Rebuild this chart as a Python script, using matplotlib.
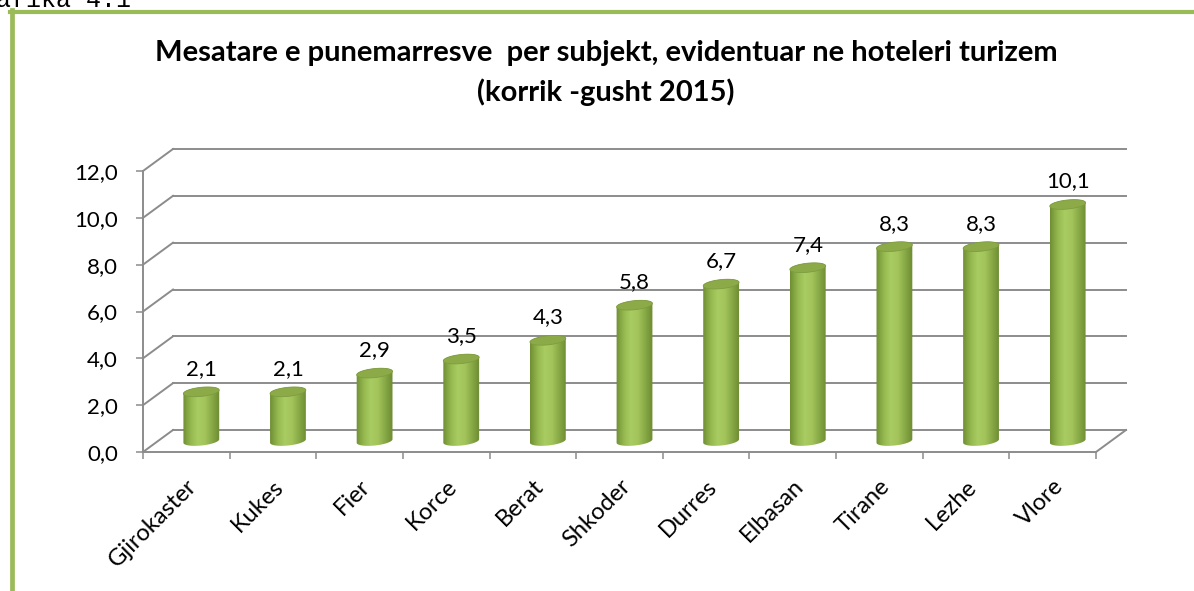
import numpy as np
import matplotlib.pyplot as plt
from matplotlib.patches import Polygon
from matplotlib.lines import Line2D
from matplotlib.colors import LinearSegmentedColormap

# mesatare e punemarresve per subjekt, korrik-gusht 2015
cities = ['Gjirokaster', 'Kukes', 'Fier', 'Korce', 'Berat', 'Shkoder',
          'Durres', 'Elbasan', 'Tirane', 'Lezhe', 'Vlore']
values = [2.1, 2.1, 2.9, 3.5, 4.3, 5.8, 6.7, 7.4, 8.3, 8.3, 10.1]
yticks = [0, 2, 4, 6, 8, 10, 12]
title1 = 'Mesatare e punemarresve  per subjekt, evidentuar ne hoteleri turizem'
title2 = '(korrik -gusht 2015)'

plt.rcParams['font.family'] = ['Lato', 'DejaVu Sans']

W, H = 1194, 591
fig = plt.figure(figsize=(W / 100, H / 100), dpi=100)

# front plane of the box in pixels (from top)
x0, x1 = 143, 1096
yb, yt = 452, 171
ax = fig.add_axes([x0 / W, 1 - yb / H, (x1 - x0) / W, (yb - yt) / H])
n = len(cities)
ax.set_xlim(0, n)
ax.set_ylim(0, 12)

px = n / (x1 - x0)        # data units per pixel
py = 12 / (yb - yt)
ddx, ddy = 30 * px, 22 * py   # depth of the fake 3d box

grid = '#8C8C8C'
for v in yticks:
    ax.plot([ddx, n + ddx], [v + ddy, v + ddy], color=grid, lw=1.4, clip_on=False, zorder=1)
    ax.plot([0, ddx], [v, v + ddy], color=grid, lw=1.4, clip_on=False, zorder=1)
ax.plot([n, n + ddx], [0, ddy], color=grid, lw=1.4, clip_on=False, zorder=1)

# cylinders
cmap = LinearSegmentedColormap.from_list(
    'cyl', ['#6F8E33', '#93B64E', '#A9CC62', '#A2C45B', '#86A744', '#6C8A32'])
grad = np.linspace(0, 1, 256).reshape(1, -1)
a, b, tilt = 18.0, 4.5, np.deg2rad(6)


def ell(cx, cy, t):
    ex, ey = a * np.cos(t), b * np.sin(t)
    rx = ex * np.cos(tilt) - ey * np.sin(tilt)
    ry = ex * np.sin(tilt) + ey * np.cos(tilt)
    return np.column_stack([cx + rx * px, cy + ry * py])


for i, v in enumerate(values):
    cx = i + 0.5 + ddx / 2
    y0 = ddy / 2
    y1 = v + ddy / 2
    body = np.vstack([ell(cx, y0, np.linspace(np.pi, 2 * np.pi, 40)),
                      ell(cx, y1, np.linspace(0, np.pi, 40))])
    clip = Polygon(body, closed=True, facecolor='none', edgecolor='none')
    ax.add_patch(clip)
    im = ax.imshow(grad, cmap=cmap, aspect='auto', zorder=3,
                   extent=[cx - a * px * 1.01, cx + a * px * 1.01, y0 - 8 * py, y1 + 8 * py])
    im.set_clip_path(clip)
    top = Polygon(ell(cx, y1, np.linspace(0, 2 * np.pi, 60)), closed=True,
                  facecolor='#8CAB48', edgecolor='#7E9C3F', lw=0.6, zorder=4)
    ax.add_patch(top)
    ax.text(cx, y1 + 23 * py, f'{v:.1f}'.replace('.', ','), ha='center', va='center',
            fontsize=16, color='#000000', zorder=5)

ax.set_xlim(0, n)
ax.set_ylim(0, 12)

for s in ['top', 'right']:
    ax.spines[s].set_visible(False)
for s in ['left', 'bottom']:
    ax.spines[s].set_color(grid)
    ax.spines[s].set_linewidth(1.4)
ax.set_facecolor('none')

ax.set_yticks(yticks)
ax.set_yticklabels([f'{v:.1f}'.replace('.', ',') for v in yticks])
ax.tick_params(axis='y', length=5, width=1.1, color=grid, pad=13, labelsize=16)
ax.set_xticks(range(n + 1))
ax.set_xticklabels([])
ax.tick_params(axis='x', which='major', length=5, width=1.1, color=grid)
ax.set_xticks(np.arange(n) + 0.5, minor=True)
ax.set_xticklabels(cities, minor=True, rotation=45, ha='right', rotation_mode='anchor',
                   fontsize=17)
ax.tick_params(axis='x', which='minor', length=0, pad=17)

fig.text(606 / W, 1 - 53 / H, title1, ha='center', va='center', fontsize=21, weight='bold')
fig.text(606 / W, 1 - 92 / H, title2, ha='center', va='center', fontsize=21, weight='bold')

# caption cut at the top edge and the green frame
fig.text(131 / W, 1 - 7 / H, 'Grafika 4.1', ha='right', va='baseline',
         family='Liberation Mono', fontsize=18)
green = '#9BBB59'
fig.add_artist(Line2D([11.5 / W, 11.5 / W], [0, 1 - 10 / H], color=green, lw=3.4,
                      transform=fig.transFigure))
fig.add_artist(Line2D([9.5 / W, 1], [1 - 12 / H, 1 - 12 / H], color=green, lw=3.0,
                      transform=fig.transFigure))

fig.savefig('out.png', dpi=100)
